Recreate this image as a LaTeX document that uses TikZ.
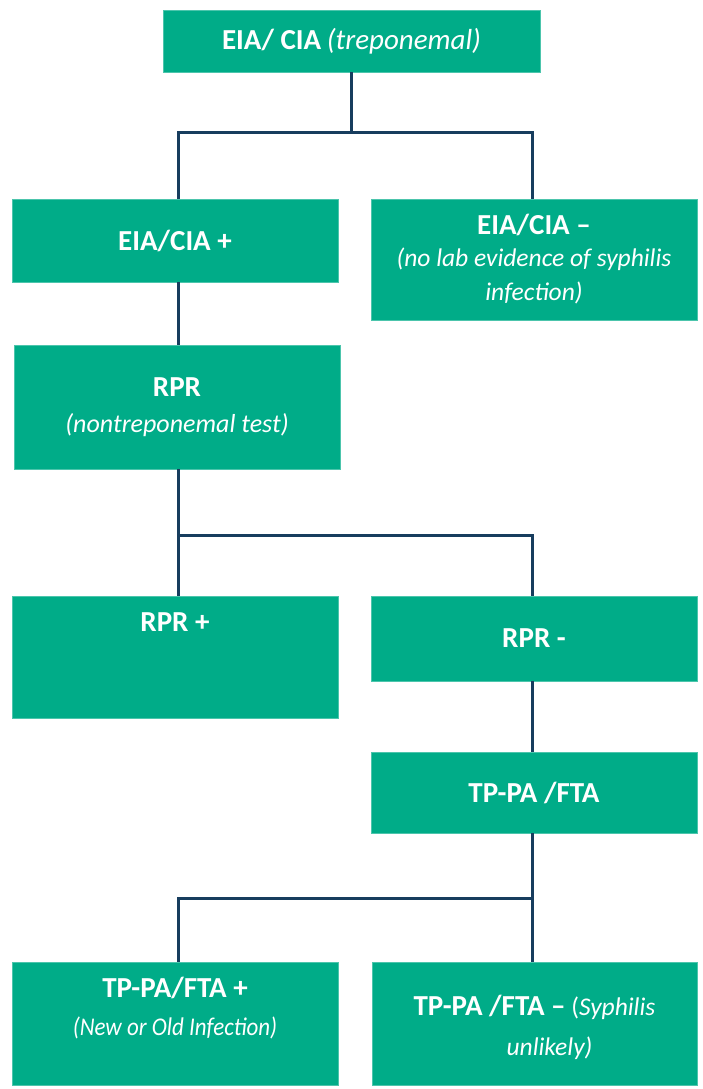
\documentclass[tikz,border=0pt]{standalone}
\usepackage{fontspec}
\setmainfont{Carlito}
\definecolor{boxgreen}{HTML}{00AC88}
\definecolor{linenavy}{HTML}{173D5E}
\newcommand{\bsz}{\fontsize{29}{34}\selectfont\bfseries}
\newcommand{\isz}{\fontsize{25.5}{30}\selectfont\itshape}
\begin{document}
\begin{tikzpicture}[x=1pt,y=-1pt,
  box/.style={draw=boxgreen!70!white, line width=0.6pt, fill=boxgreen, text=white, align=center,
    minimum width=326pt, inner sep=0pt, font=\fontsize{25}{38}\selectfont},
  conn/.style={draw=linenavy, line width=3pt}]
\useasboundingbox (0,0) rectangle (702,1089);
\node[box, minimum width=377pt, minimum height=62pt] (top) at (351.5,41)
  {{\bsz EIA/ CIA} {\fontsize{29}{34}\selectfont\itshape (treponemal)}};
\node[box, minimum height=83pt] (eplus) at (175,240.5) {\bsz EIA/CIA +};
\node[box, minimum height=121pt, font=\fontsize{25}{36}\selectfont] (eminus) at (534,259.5)
  {{\bsz EIA/CIA –}\\[-4pt]{\isz (no lab evidence of syphilis}\\[-2pt]{\isz infection)}};
\node[box, minimum height=124pt] (rpr) at (177,407)
  {{\bsz RPR}\\[-2pt]{\fontsize{26}{30}\selectfont\itshape (nontreponemal test)}};
\node[box, minimum height=122pt] (rplus) at (175,657) {};
\node[text=white, font=\bsz] (rplust) at (rplus.north |- 0,622) {RPR +};
\node[box, minimum height=85pt] (rminus) at (534,638.5) {\bsz RPR -};
\node[box, minimum height=81pt] (tppa) at (534,792.5) {\bsz TP-PA /FTA};
\node[box, minimum height=123pt] (tplus) at (175,1023.5) {};
\node[text=white, align=center, font=\fontsize{25}{40}\selectfont] (tplust) at (tplus.north |- 0,1008)
  {{\bsz TP-PA/FTA +}\\[-2pt]\scalebox{0.9}[1]{\isz (New or Old Infection)}};
\node[box, minimum width=325pt, minimum height=123pt] (tminus) at (534.5,1023.5) {};
\node[text=white, align=center, font=\fontsize{25}{40}\selectfont] (tminust) at (tminus.north |- 0,1027)
  {{\bsz TP-PA /FTA –} {\fontsize{25.5}{30}\selectfont(\textit{Syphilis}}\\\hspace*{30pt}{\isz unlikely)}};
% connectors
\coordinate (j1) at (351.5,133);
\coordinate (j2) at (178,535);
\coordinate (j3) at (532,898);
\draw[conn] (top.south) -- (j1);
\draw[conn] ([xshift=3pt]eplus.north) |- (j1) -| ([xshift=-2pt]eminus.north);
\draw[conn] ([xshift=3pt]eplus.south) -- ([xshift=3pt]eplus.south |- rpr.north);
\draw[conn] (rpr.south -| j2) -- (j2);
\draw[conn] ([xshift=3pt]rplus.north) |- (j2) -| ([xshift=-2pt]rminus.north);
\draw[conn] ([xshift=-2pt]rminus.south) -- ([xshift=-2pt]tppa.north);
\draw[conn] ([xshift=-2pt]tppa.south) -- (j3);
\draw[conn] ([xshift=3pt]tplus.north) |- (j3) -| ([xshift=-2.5pt]tminus.north);
\end{tikzpicture}
\end{document}
